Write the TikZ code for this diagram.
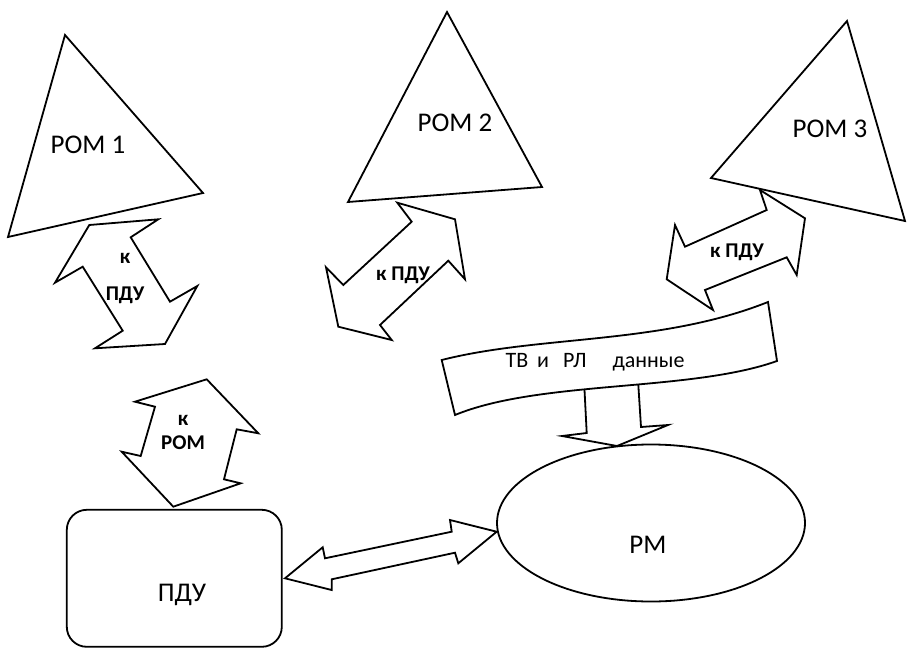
\documentclass[tikz,border=0pt]{standalone}
\usepackage{fontspec}
\setmainfont{Carlito}
\usetikzlibrary{shapes.geometric}

\begin{document}
\begin{tikzpicture}[
    x=1pt, y=-1pt,
    block/.style={draw, line width=1.8pt, line join=miter, fill=white},
    title/.style={font=\fontsize{27}{30}\selectfont, inner sep=0pt},
    tag/.style={font=\fontsize{21}{24}\selectfont\bfseries, align=center, inner sep=0pt},
    band/.style={font=\fontsize{22}{25}\selectfont, inner sep=0pt}
]

\useasboundingbox (0,0) rectangle (907,650);

% Define triangles
\draw[block] (65,35) -- (203,193) -- (8,237) -- cycle;
\draw[block] (447,12) -- (542,187) -- (348,202) -- cycle;
\draw[block] (847,21) -- (905,221) -- (711,178) -- cycle;
\node[title] (rom1) at (88,145) {РОМ 1};
\node[title] (rom2) at (455,123) {РОМ 2};
\node[title] (rom3) at (830,129) {РОМ 3};

% Define control desk and receiver
\node[block, rounded corners=20pt, minimum width=215pt, minimum height=137pt] (pdu) at (174.3,578.3) {};
\node[title] (pdutext) at (182,595) {ПДУ};
\node[block, ellipse, minimum width=308pt, minimum height=157pt] (rm) at (651,523) {};
\node[title] (rmtext) at (648,545) {РМ};

% Add block arrows
\draw[block] (89.3,225) -- (158.3,219.3) -- (130.7,237.3) -- (170,301.7) -- (197.3,286)
    -- (165,344) -- (95,348.3) -- (122.7,330.7) -- (82.7,266.7) -- (55,282.7) -- cycle;
\node[tag] (k1) at (125,258) {к};
\node[tag] (pdu1) at (125,295) {ПДУ};

\draw[block] (397.3,202.7) -- (455,219.3) -- (465,279.3) -- (448.3,260.7) -- (380,325)
    -- (391.7,340) -- (338.3,326.7) -- (326,267.3) -- (343.3,285) -- (411.7,221.7) -- cycle;
\node[tag] (pdu2) at (403,275) {к ПДУ};

\draw[block] (760,190) -- (766.7,210) -- (685,246.7) -- (675,225) -- (666.7,279.3)
    -- (713,310) -- (705,290) -- (786.7,257.3) -- (796.7,275) -- (805,218.3) -- cycle;
\node[tag] (pdu3) at (737,252) {к ПДУ};

\draw[block] (135,401.7) -- (206.7,379.3) -- (258.3,433.3) -- (236.7,429.3) -- (224,479.3)
    -- (240.7,483.3) -- (173.3,506.7) -- (121.7,451.7) -- (140.7,456) -- (155,406.7) -- cycle;
\node[tag] (k4) at (183,420) {к};
\node[tag] (rom4) at (183,443) {РОМ};

\draw[block] (285,578.3) -- (322.7,547.3) -- (325,558.3) -- (451.7,531.7) -- (450,520)
    -- (496.7,531.7) -- (458.3,563.3) -- (455,552.7) -- (331.7,579.3) -- (331.7,590) -- cycle;

\draw[block] (584,380) -- (586.7,433) -- (562,436) -- (617,446) -- (668,425)
    -- (641,427) -- (638,380) -- cycle;

% Add data banner
\draw[block] (441.7,360) .. controls (540,335) and (660,345) .. (768,302) -- (777,361)
    .. controls (690,392) and (540,380) .. (455,415) -- cycle;
\node[band] (data) at (595,362) {ТВ\hspace{9pt}и\hspace{14pt}РЛ\hspace{26pt}данные};

\end{tikzpicture}
\end{document}
